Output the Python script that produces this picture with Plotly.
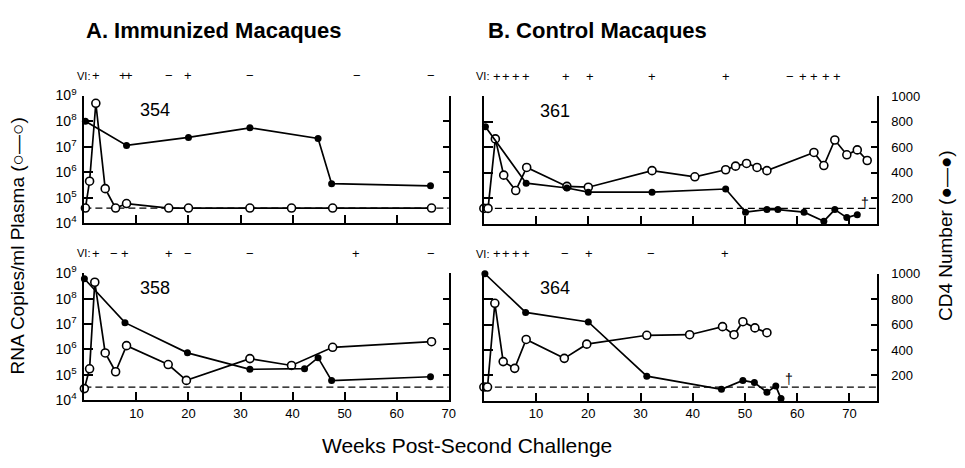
import plotly.graph_objects as go

# ---------------- data ----------------
# Panel 354 (immunized)
rna_354_wk = [0.2, 1.0, 2.2, 4.0, 6.0, 8.1, 16.2, 20.0, 31.8, 39.8, 47.7, 66.7]
rna_354 = [4e4, 4.5e5, 5e8, 2.3e5, 4e4, 6e4, 4e4, 4e4, 4e4, 4e4, 4e4, 4e4]
cd4_354_wk = [0.2, 8.1, 20.0, 31.8, 44.9, 47.5, 66.5]
cd4_354 = [800, 610, 673, 748, 665, 311, 294]
vi_354_wk = [2.2, 7.4, 8.6, 16.3, 20.0, 31.9, 52.4, 66.6]
vi_354 = ['+', '+', '+', '\u2212', '+', '\u2212', '\u2212', '\u2212']

# Panel 358 (immunized)
rna_358_wk = [0.0, 1.0, 2.0, 4.0, 6.0, 8.1, 16.1, 19.6, 31.8, 39.8, 47.7, 66.7]
rna_358 = [2.8e4, 1.7e5, 4.5e8, 7.2e5, 1.3e5, 1.4e6, 2.5e5, 5.9e4, 4.3e5, 2.3e5, 1.2e6, 2.0e6]
cd4_358_wk = [0.0, 7.8, 19.8, 31.8, 42.3, 44.9, 47.5, 66.5]
cd4_358 = [958, 611, 372, 242, 247, 334, 153, 183]
vi_358_wk = [2.2, 5.7, 7.8, 16.3, 19.9, 31.9, 52.2, 66.6]
vi_358 = ['+', '\u2212', '+', '+', '\u2212', '\u2212', '+', '\u2212']

# Panel 361 (control)
rna_361_wk = [0.0, 0.8, 2.2, 3.8, 6.1, 8.2, 15.9, 20.0, 32.2, 40.4, 46.3, 48.2, 50.3,
              52.3, 54.2, 63.2, 65.1, 67.2, 69.5, 71.5, 73.4]
rna_361 = [4e4, 4e4, 2.1e7, 8e5, 2e5, 1.6e6, 2.9e5, 2.7e5, 1.2e6, 6.9e5, 1.3e6, 1.8e6, 2.3e6,
           1.6e6, 1.2e6, 6.2e6, 1.9e6, 1.9e7, 5e6, 7.8e6, 3e6]
cd4_361_wk = [0.3, 8.1, 15.9, 20.0, 32.2, 46.3, 50.1, 54.2, 56.3, 61.3, 65.1, 67.2, 69.5, 71.5]
cd4_361 = [760, 318, 280, 247, 247, 272, 91, 111, 111, 91, 20, 111, 48, 71]
vi_361_wk = [2.5, 4.3, 6.1, 8.1, 15.7, 20.3, 32.2, 46.3, 58.7, 61.2, 63.2, 65.5, 67.6]
vi_361 = ['+', '+', '+', '+', '+', '+', '+', '+', '\u2212', '+', '+', '+', '+']

# Panel 364 (control)
rna_364_wk = [0.0, 0.7, 2.1, 3.7, 5.9, 8.1, 15.4, 19.7, 31.2, 39.4, 45.7, 47.9, 49.6, 51.9, 54.2]
rna_364 = [3.5e4, 3.5e4, 6.9e7, 3.5e5, 1.9e5, 2.6e6, 4.7e5, 1.7e6, 3.8e6, 4e6, 8.3e6, 4e6,
           1.3e7, 7.4e6, 4.8e6]
cd4_364_wk = [0.2, 8.0, 20.0, 31.2, 45.5, 49.6, 51.8, 54.2, 55.9, 56.9]
cd4_364 = [1000, 696, 621, 194, 91, 161, 144, 68, 116, 18]
vi_364_wk = [2.5, 4.3, 6.1, 8.1, 15.6, 20.2, 32.0, 46.1]
vi_364 = ['+', '+', '+', '+', '\u2212', '+', '\u2212', '+']

# detection limits (RNA copies/ml) shown as dashed lines
limit_values = [4e4, 3.2e4, 4e4, 3.5e4]
# death markers (week, CD4 level) for control animals
dagger_361 = (73.0, 160)
dagger_364 = (58.5, 170)

panel_names = ['354', '358', '361', '364']
x_ticks = [10, 20, 30, 40, 50, 60, 70]
log_ticks = [1e4, 1e5, 1e6, 1e7, 1e8, 1e9]
log_tick_text = ['10<sup>4</sup>', '10<sup>5</sup>', '10<sup>6</sup>', '10<sup>7</sup>',
                 '10<sup>8</sup>', '10<sup>9</sup>']
cd4_ticks = [200, 400, 600, 800, 1000]

# ---------------- layout geometry (pixels) ----------------
W, H = 965, 468
FONT = 'Liberation Sans, Arial, Helvetica, sans-serif'
BLACK = '#000000'

def py(p):
    return 1 - p / H

panels = [
    dict(name=panel_names[0], rna_wk=rna_354_wk, rna=rna_354, cd4_wk=cd4_354_wk, cd4=cd4_354,
         vi_wk=vi_354_wk, vi=vi_354, xd=[85, 452], yd=[89, 222], xr=[0, 70],
         left_labels=True, right_labels=False, bottom=False, dagger=None),
    dict(name=panel_names[1], rna_wk=rna_358_wk, rna=rna_358, cd4_wk=cd4_358_wk, cd4=cd4_358,
         vi_wk=vi_358_wk, vi=vi_358, xd=[85, 452], yd=[274, 405.5], xr=[0, 70],
         left_labels=True, right_labels=False, bottom=True, dagger=None),
    dict(name=panel_names[2], rna_wk=rna_361_wk, rna=rna_361, cd4_wk=cd4_361_wk, cd4=cd4_361,
         vi_wk=vi_361_wk, vi=vi_361, xd=[487.4, 883], yd=[89.5, 222.3], xr=[0, 75.2],
         left_labels=False, right_labels=True, bottom=False, dagger=dagger_361),
    dict(name=panel_names[3], rna_wk=rna_364_wk, rna=rna_364, cd4_wk=cd4_364_wk, cd4=cd4_364,
         vi_wk=vi_364_wk, vi=vi_364, xd=[487.4, 883], yd=[274.3, 406.5], xr=[0, 75.2],
         left_labels=False, right_labels=True, bottom=True, dagger=dagger_364),
]

fig = go.Figure()
layout = dict(
    width=W, height=H, margin=dict(l=0, r=0, t=0, b=0),
    paper_bgcolor='white', plot_bgcolor='white', showlegend=False,
    font=dict(family=FONT, color=BLACK, size=13),
)
annotations = []

for i, p in enumerate(panels):
    xn = '' if i == 0 else str(i + 1)
    ylog = '' if i == 0 else str(2 * i + 1)
    ycd = str(2 * i + 2)
    xid, ylid, ycid = 'x' + xn, 'y' + ylog, 'y' + ycd

    # dashed detection limit
    fig.add_trace(go.Scatter(x=p['xr'], y=[limit_values[i]] * 2, xaxis=xid, yaxis=ylid,
                             mode='lines', line=dict(color=BLACK, width=1.3, dash='7px,4px'),
                             hoverinfo='skip'))
    # CD4 (filled)
    fig.add_trace(go.Scatter(x=p['cd4_wk'], y=p['cd4'], xaxis=xid, yaxis=ycid,
                             mode='lines+markers', cliponaxis=False,
                             line=dict(color=BLACK, width=1.7),
                             marker=dict(symbol='circle', size=7, color=BLACK)))
    # RNA (open)
    fig.add_trace(go.Scatter(x=p['rna_wk'], y=p['rna'], xaxis=xid, yaxis=ylid,
                             mode='lines+markers', cliponaxis=False,
                             line=dict(color=BLACK, width=1.7),
                             marker=dict(symbol='circle', size=8, color='white',
                                         line=dict(color=BLACK, width=1.6))))

    layout['xaxis' + xn] = dict(
        domain=[p['xd'][0] / W, p['xd'][1] / W], range=p['xr'], anchor=ylid,
        showline=True, linewidth=2, linecolor=BLACK, showgrid=False, zeroline=False,
        ticks='inside', ticklen=8, tickwidth=1.5, tickcolor=BLACK,
        tickvals=x_ticks, showticklabels=p['bottom'], tickfont=dict(size=13, color=BLACK),
    )
    layout['yaxis' + ylog] = dict(
        domain=[py(p['yd'][1]), py(p['yd'][0])], type='log', range=[4, 9], anchor=xid,
        showline=True, linewidth=2, linecolor=BLACK, showgrid=False, zeroline=False,
        ticks='inside', ticklen=9, tickwidth=1.5, tickcolor=BLACK,
        tickvals=log_ticks, ticktext=log_tick_text, showticklabels=p['left_labels'],
        tickfont=dict(size=14, color=BLACK), ticklabelstandoff=3,
    )
    layout['yaxis' + ycd] = dict(
        overlaying=ylid, side='right', range=[0, 1000], anchor=xid,
        showline=True, linewidth=2, linecolor=BLACK, showgrid=False, zeroline=False,
        ticks='inside', ticklen=6, tickwidth=1.5, tickcolor=BLACK,
        tickvals=cd4_ticks, showticklabels=p['right_labels'],
        tickfont=dict(size=13, color=BLACK), ticklabelstandoff=10,
    )

    # animal number
    annotations.append(dict(x=13.6, y=885, xref=xid, yref=ycid, text=p['name'],
                            showarrow=False, font=dict(size=18, color=BLACK),
                            xanchor='center', yanchor='middle'))
    # VI row
    annotations.append(dict(x=0, y=1, xref=xid + ' domain', yref=ycid + ' domain', text='VI:',
                            showarrow=False, font=dict(size=11, color=BLACK), xanchor='center',
                            yanchor='middle', yshift=20, xshift=-1))
    for wk, s in zip(p['vi_wk'], p['vi']):
        annotations.append(dict(x=wk, y=1, xref=xid, yref=ycid + ' domain', text=s,
                                showarrow=False, font=dict(size=13, color=BLACK),
                                xanchor='center', yanchor='middle', yshift=20))
    if p['dagger'] is not None:
        annotations.append(dict(x=p['dagger'][0], y=p['dagger'][1], xref=xid, yref=ycid,
                                text='\u2020', showarrow=False,
                                font=dict(size=14, color=BLACK),
                                xanchor='center', yanchor='middle'))

# titles
annotations += [
    dict(x=216 / W, y=py(21), xref='paper', yref='paper', text='<b>A. Immunized Macaques</b>',
         showarrow=False, font=dict(size=22, color=BLACK), xanchor='center', yanchor='middle'),
    dict(x=602 / W, y=py(21), xref='paper', yref='paper', text='<b>B. Control Macaques</b>',
         showarrow=False, font=dict(size=22, color=BLACK), xanchor='center', yanchor='middle'),
    dict(x=18 / W, y=py(245), xref='paper', yref='paper',
         text='RNA Copies/ml Plasma (\u25cb\u2014\u25cb)', textangle=-90,
         showarrow=False, font=dict(size=19, color=BLACK), xanchor='center', yanchor='middle'),
    dict(x=953 / W, y=py(235), xref='paper', yref='paper',
         text='CD4 Number (\u25cf\u2014\u25cf)', textangle=-90,
         showarrow=False, font=dict(size=19, color=BLACK), xanchor='center', yanchor='middle'),
    dict(x=470 / W, y=py(453), xref='paper', yref='paper',
         text='Weeks Post-Second Challenge',
         showarrow=False, font=dict(size=21, color=BLACK), xanchor='center', yanchor='middle'),
]
layout['annotations'] = annotations
fig.update_layout(**layout)
fig.write_html('out.html')
